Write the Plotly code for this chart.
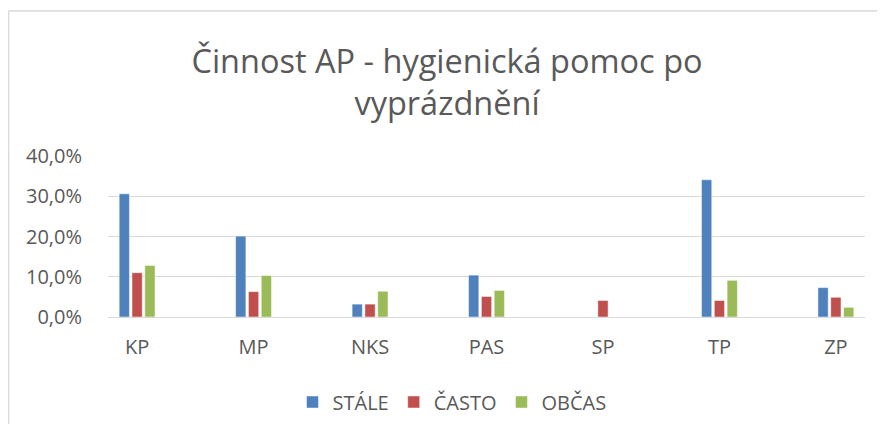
import plotly.graph_objects as go

categories = ["KP", "MP", "NKS", "PAS", "SP", "TP", "ZP"]
stale = [0.306, 0.201, 0.032, 0.104, None, 0.341, 0.073]
casto = [0.110, 0.063, 0.032, 0.051, 0.041, 0.041, 0.049]
obcas = [0.128, 0.103, 0.064, 0.066, None, 0.091, 0.024]
series_names = ["STÁLE", "ČASTO", "OBČAS"]
colors = ["#4F81BD", "#C0504D", "#9BBB59"]
y_ticks = [0, 0.1, 0.2, 0.3, 0.4]

FONT = "Open Sans"
TXT = "#595959"

fig = go.Figure()
for name, vals, col in zip(series_names, [stale, casto, obcas], colors):
    fig.add_trace(go.Bar(x=categories, y=vals, name=name,
                         marker=dict(color=col, line=dict(color="rgba(255,255,255,0.6)", width=0.8))))

# page has an 8px body margin: work in screen coordinates and shift
OX, OY = 8, 8
W, H = 885 - 2 * OX, 432 - 2 * OY
L, T = 108 - OX, 156 - OY
R = W - (865 - OX)
B = H - T - 161
pw, ph = W - L - R, H - T - B

def px(x):
    return (x - OX - L) / pw

def py(y):
    return (H - B - (y - OY)) / ph

def cx(x):
    return (x - OX) / W

def cy(y):
    return 1 - (y - OY) / H

fig.update_layout(
    width=W, height=H,
    margin=dict(l=L, r=R, t=T, b=B, autoexpand=False),
    paper_bgcolor="white", plot_bgcolor="white",
    separators=", ",
    font=dict(family=FONT, color=TXT, size=20),
    barmode="group", bargap=0.67, bargroupgap=0.2,
    title=dict(text="Činnost AP - hygienická pomoc po<br>vyprázdnění",
               x=cx(447), xref="container", xanchor="center",
               y=cy(73), yref="container", yanchor="middle",
               font=dict(family=FONT, size=32.5, color=TXT)),
    xaxis=dict(range=[-0.25, 6.25], showgrid=False, showline=False, zeroline=False,
               ticks="", ticklabelstandoff=16, tickfont=dict(size=20, color=TXT),
               fixedrange=True, automargin=False),
    yaxis=dict(range=[0, 0.4], tickvals=y_ticks, tickformat=".1%",
               gridcolor="#D9D9D9", gridwidth=1.3, zeroline=True, zerolinecolor="#D9D9D9",
               zerolinewidth=1.3, showline=False, ticks="", ticklabelstandoff=25,
               tickfont=dict(size=20, color=TXT), fixedrange=True, automargin=False),
    legend=dict(orientation="h", xref="container", x=cx(452), xanchor="center",
                yref="container", y=cy(402), yanchor="middle",
                font=dict(size=20, color=TXT), itemwidth=30, traceorder="normal"),
    showlegend=True,
    shapes=[
        dict(type="line", xref="paper", yref="paper", x0=px(8.5), x1=px(885), y0=py(11), y1=py(11),
             line=dict(color="#D9D9D9", width=1.5)),
        dict(type="line", xref="paper", yref="paper", x0=px(8.5), x1=px(8.5), y0=py(11), y1=py(432),
             line=dict(color="#D9D9D9", width=1.5)),
    ],
)

fig.write_html("out.html")
